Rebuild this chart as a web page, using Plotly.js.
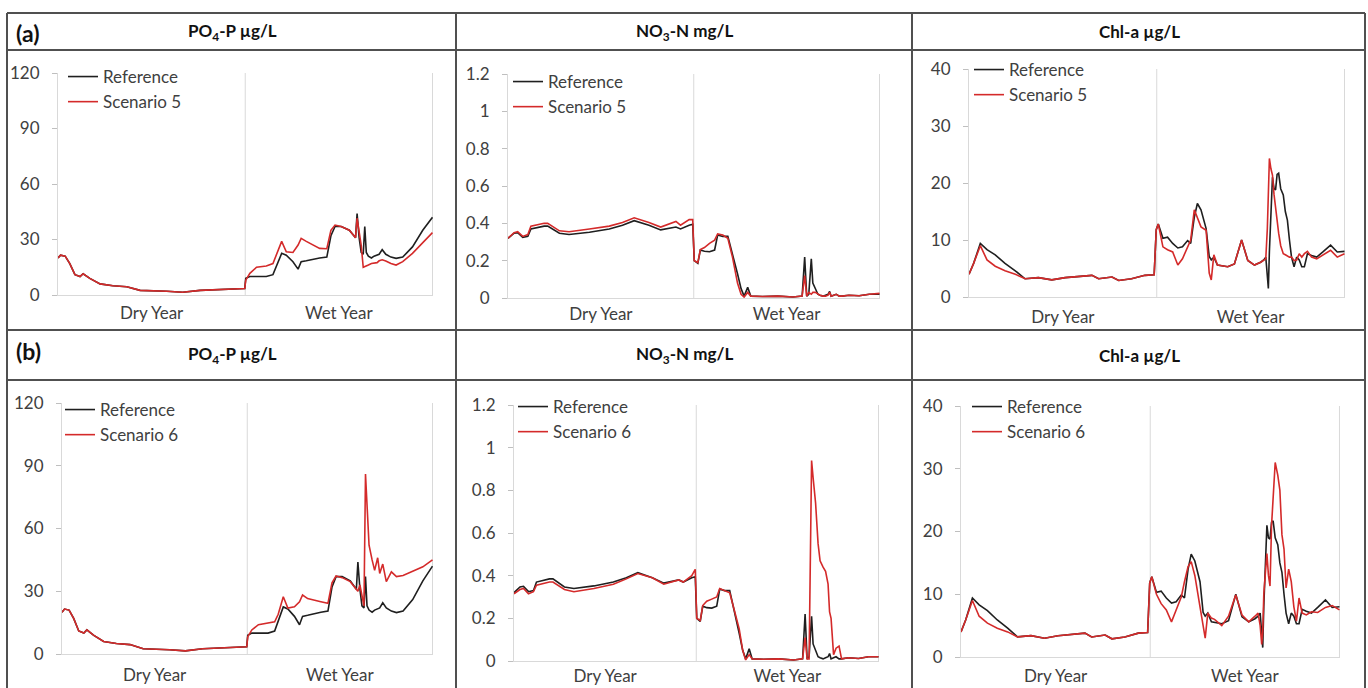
<!DOCTYPE html>
<html><head><meta charset="utf-8">
<script src="https://cdn.plot.ly/plotly-3.0.1.min.js"></script>
<style>html,body{margin:0;padding:0;background:#fff;}#chart{width:1368px;height:688px;}</style>
</head><body><div id="chart"></div>
<script>
// ---------------- DATA ----------------
const xLabels = ["Dry Year", "Wet Year"];
const xLabelPos = [182.5, 547.5];
const yearBounds = [365, 730];
const headers = ["PO<sub>4</sub>-P µg/L", "NO<sub>3</sub>-N mg/L", "Chl-a µg/L"];
const rowTags = ["(a)", "(b)"];
const seriesNames = ["Reference", "Scenario 5", "Scenario 6"];
const po4Ticks = [0, 30, 60, 90, 120];
const no3Ticks = [0, 0.2, 0.4, 0.6, 0.8, 1, 1.2];
const chlTicks = [0, 10, 20, 30, 40];

// day of the two-year run (0-365 dry year, 365-730 wet year)
const po4Day = [0,5,14,23,33,43,49,62,82,107,134,160,212,243,277,310,341,364,366,374,387,406,419,426,436,445,458,468,474,484,491,510,524,532,540,552,568,580,583,587,591,595,598,601,605,611,616,622,626,632,639,649,659,672,691,711,730];
const po4Ref = [20,21.5,21,17,11,10,11.5,9,6,5,4.5,2.5,2,1.5,2.5,3,3.5,3.5,9,10,10,10,11,16,22.5,21.5,18,14,18,18.5,19,20,20.5,32,37,37,35,31,44,31,23,22,37,23,21,20,21,21.5,22,24.5,22,20.5,19.8,20.5,26,35,42];
const po4S5 = [20,21.5,21,17,11,10,11.5,9,6,5,4.5,2.5,2,1.5,2.5,3,3.5,3.5,8,11.7,15,15.7,17,21.6,29,23.4,23,27,30.6,29,28,25.2,25,35,37.8,37,35,31,41.5,33,27,15,15.5,16,16.2,17,17.3,17.5,18.5,19,18.4,17,16.2,18,22.5,28,33.7];
const po4S6 = [20,21.5,21,17,11,10,11.5,9,6,5,4.5,2.5,2,1.5,2.5,3,3.5,3.5,8.3,11.5,14,15,15.4,19,27.4,22,22.6,25,28.2,26.5,26,25,24.2,34,37.3,36.5,34.6,31,30,33,28,23,86,72,52,45,40,46,38.5,43,34.6,39.3,37,37.5,39.5,41.7,45];

const no3Day = [0,12,19,29,39,45,71,78,101,120,160,199,225,248,277,300,330,339,356,363,366,373,378,386,396,406,412,422,432,441,451,458,464,471,477,500,530,560,578,583,587,591,596,599,604,609,613,619,624,629,632,635,640,645,651,656,670,690,710,730];
const no3Ref = [0.32,0.347,0.35,0.325,0.33,0.37,0.385,0.385,0.347,0.34,0.352,0.37,0.39,0.414,0.39,0.365,0.38,0.37,0.39,0.395,0.2,0.186,0.257,0.25,0.248,0.257,0.337,0.33,0.33,0.24,0.13,0.05,0.01,0.057,0.01,0.008,0.01,0.005,0.01,0.22,0.01,0.02,0.21,0.08,0.05,0.02,0.015,0.01,0.015,0.02,0.035,0.01,0.015,0.02,0.01,0.01,0.015,0.012,0.02,0.02];
const no3S5 = [0.32,0.35,0.355,0.33,0.34,0.385,0.4,0.4,0.36,0.355,0.37,0.385,0.405,0.43,0.405,0.38,0.41,0.39,0.42,0.42,0.2,0.19,0.26,0.27,0.293,0.31,0.343,0.337,0.32,0.22,0.08,0.02,0.005,0.03,0.01,0.008,0.01,0.005,0.01,0.12,0.01,0.03,0.02,0.03,0.03,0.02,0.015,0.01,0.01,0.015,0.03,0.01,0.015,0.02,0.01,0.01,0.015,0.012,0.02,0.025];
const no3S6 = [0.315,0.335,0.34,0.315,0.325,0.355,0.37,0.37,0.335,0.325,0.34,0.36,0.385,0.41,0.39,0.36,0.38,0.37,0.4,0.43,0.2,0.19,0.26,0.28,0.29,0.3,0.34,0.33,0.32,0.24,0.15,0.05,0.005,0.03,0.01,0.008,0.01,0.005,0.01,0.11,0.01,0.01,0.94,0.86,0.74,0.55,0.47,0.44,0.42,0.36,0.23,0.2,0.03,0.06,0.07,0.01,0.015,0.012,0.02,0.02];

const chlDay = [0,9,22,35,51,70,90,109,135,161,187,213,239,252,278,291,316,342,360,364,368,377,386,396,406,415,425,431,438,444,451,461,467,471,476,483,489,503,516,530,542,555,567,573,577,580,582,584,587,590,593,596,599,602,606,611,615,619,623,627,632,637,642,647,652,658,666,676,688,703,716,730];
const chlRef = [4,5.9,9.4,8.3,7.4,5.9,4.6,3.2,3.4,3,3.4,3.6,3.8,3.2,3.5,2.9,3.2,3.8,3.9,11.8,12.8,10.3,10.5,9.4,8.6,8.8,9.9,9.4,14,16.4,15.3,12,7.1,6.5,7,5.6,5.5,5.3,5.8,10,6.4,5.6,6.1,6.5,7,4,1.5,8,15,21,19,18.8,21.5,21.7,19,17.9,15,13.5,10,7,5.3,7,6.5,5.3,5.3,7.6,7.3,7,7.9,9.1,7.9,8];
const chlS5 = [4,5.9,9,6.5,5.4,4.6,4,3.2,3.4,3,3.4,3.6,3.8,3.2,3.5,2.9,3.2,3.8,3.9,11.8,12.8,8.8,8.3,7.9,5.6,6.7,8.8,10,15.3,14,12.3,11.7,4.2,3,7.4,5.6,5.5,5.3,5.8,10,6.4,5.6,6.1,6.5,6.7,12,20,24.3,22.5,21.4,18,15.8,13,11.2,9,7.6,7.4,7.2,7,7,6.4,6.5,7.6,7,7.6,8,7,6.7,7.4,8.2,7,7.6];
const chlS6 = [4,5.9,9,6.5,5.4,4.6,4,3.2,3.4,3,3.4,3.6,3.8,3.2,3.5,2.9,3.2,3.8,3.9,11.8,12.8,10,8.5,7.5,5.6,7.5,9.6,12,14.4,15.2,13,8,4.8,3,7,6.2,6,5,6.5,9.9,6.7,5.6,6.5,7,5,2,4,10,13.3,16.5,13,11.3,21,25,31,29,26.6,19.5,17.2,11,14,12,8,5.7,9.4,7,6.7,7.2,7.1,7.9,8.2,7.5];

// ---------------- LAYOUT HELPERS ----------------
const W = 1368, H = 688;
const px = v => v / W;
const py = v => 1 - v / H;
const FONT = "Lato, 'Open Sans', sans-serif";
const TXT = "#404040";
const REFC = "#1f1f1f", SCNC = "#d42a2a";

// panel plot boxes in pixels [left, right, top(ymax), bottom(y=0)]
const boxes = [
  [58, 433, 73, 295], [508, 880, 74, 298], [969, 1345, 69, 297],
  [62, 433, 403, 654], [514, 879, 405, 661], [961, 1340, 406, 657]
];
const xStandoff = [3, 1, 5, 6, 0, 4];
const legendPos = [[63, 59], [508, 64], [969, 52], [60, 392], [513, 389], [967, 389]];
const yTicks = [po4Ticks, no3Ticks, chlTicks];
const dayArr = [po4Day, no3Day, chlDay];
const refArr = [po4Ref, no3Ref, chlRef];
const scnArr = [[po4S5, no3S5, chlS5], [po4S6, no3S6, chlS6]];

const data = [];
const layout = {
  width: W, height: H, margin: {l: 0, r: 0, t: 0, b: 0},
  paper_bgcolor: "#fff", plot_bgcolor: "#fff",
  font: {family: FONT, color: TXT},
  showlegend: true, shapes: [], annotations: []
};

for (let p = 0; p < 6; p++) {
  const row = Math.floor(p / 3), col = p % 3;
  const n = p + 1;
  const sfx = (n === 1 ? "" : String(n));
  const xa = "x" + sfx, ya = "y" + sfx;
  const leg = "legend" + sfx;
  const b = boxes[p];
  const tv = yTicks[col];
  layout["xaxis" + sfx] = {
    domain: [px(b[0]), px(b[1])], anchor: ya, range: [0, 731],
    tickmode: "array", tickvals: xLabelPos, ticktext: xLabels, ticks: "",
    showline: true, linecolor: "#d9d9d9", linewidth: 1,
    showgrid: false, zeroline: false, ticklabelstandoff: xStandoff[p],
    tickfont: {family: FONT, size: 17, color: TXT}, fixedrange: true
  };
  layout["yaxis" + sfx] = {
    domain: [py(b[3]), py(b[2])], anchor: xa, range: [0, tv[tv.length - 1]],
    tickmode: "array", tickvals: tv, ticktext: tv.map(String),
    ticks: "outside", ticklen: 5, tickcolor: "#bfbfbf", tickwidth: 1,
    showline: true, linecolor: "#d9d9d9", linewidth: 1,
    showgrid: false, zeroline: false, ticklabelstandoff: 9,
    tickfont: {family: FONT, size: 17, color: TXT}, fixedrange: true
  };
  // vertical separators between the two years and at the end of the axis
  yearBounds.forEach(d => layout.shapes.push({
    type: "line", xref: xa, yref: ya + " domain", x0: d, x1: d, y0: 0, y1: 1,
    line: {color: "#d9d9d9", width: 1}, layer: "below"
  }));
  layout[leg] = {
    x: px(legendPos[p][0]), y: py(legendPos[p][1]), xanchor: "left", yanchor: "top",
    xref: "paper", yref: "paper", bgcolor: "rgba(0,0,0,0)", borderwidth: 0,
    font: {family: FONT, size: 17, color: TXT}, itemwidth: 30, tracegroupgap: 0,
    traceorder: "normal"
  };
  data.push({
    type: "scatter", mode: "lines", x: dayArr[col], y: refArr[col],
    name: seriesNames[0], xaxis: xa, yaxis: ya, legend: leg,
    line: {color: REFC, width: 1.6}, hoverinfo: "skip"
  });
  data.push({
    type: "scatter", mode: "lines", x: dayArr[col], y: scnArr[row][col],
    name: seriesNames[row + 1], xaxis: xa, yaxis: ya, legend: leg,
    line: {color: SCNC, width: 1.6}, hoverinfo: "skip"
  });
}

// table frame
const BC = "#505050";
const hl = (y) => ({type: "line", xref: "paper", yref: "paper", x0: px(7), x1: px(1365), y0: py(y), y1: py(y), line: {color: BC, width: 2}});
const vl = (x) => ({type: "line", xref: "paper", yref: "paper", x0: px(x), x1: px(x), y0: py(13), y1: py(688), line: {color: BC, width: 2}});
[13, 50, 330, 380].forEach(y => layout.shapes.push(hl(y)));
[7, 456, 912, 1365].forEach(x => layout.shapes.push(vl(x)));

// header texts
const colCenters = [232, 684, 1139];
const headY = [32, 355];
for (let r = 0; r < 2; r++) {
  layout.annotations.push({
    xref: "paper", yref: "paper", x: px(14), y: py(headY[r] + (r === 0 ? 1 : -4)), xanchor: "left", yanchor: "middle",
    text: "<b>" + rowTags[r] + "</b>", showarrow: false,
    font: {family: FONT, size: 23, color: "#111"}
  });
  for (let c = 0; c < 3; c++) {
    layout.annotations.push({
      xref: "paper", yref: "paper", x: px(colCenters[c]), y: py(headY[r]), xanchor: "center", yanchor: "middle",
      text: "<b>" + headers[c] + "</b>", showarrow: false,
      font: {family: FONT, size: 17, color: "#111"}
    });
  }
}

Plotly.newPlot("chart", data, layout, {staticPlot: true, displayModeBar: false});
</script></body></html>
